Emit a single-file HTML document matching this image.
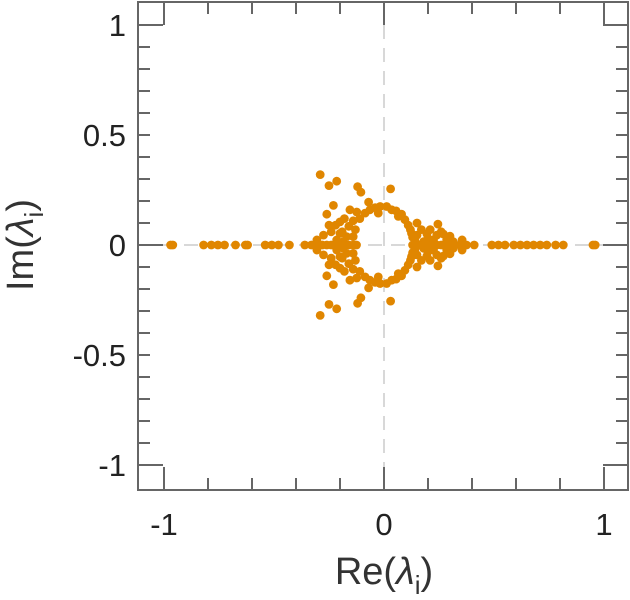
<!DOCTYPE html>
<html><head><meta charset="utf-8"><style>
body{margin:0;background:#fff}
svg{display:block;font-family:"Liberation Sans",sans-serif}
</style></head><body>
<svg id="chart" width="630" height="600">
<g id="plot"></g>
<text x="384" y="584" text-anchor="middle" font-size="38" fill="#333">Re(<tspan font-style="italic">λ</tspan><tspan font-size="26" dy="10">i</tspan><tspan dy="-10">)</tspan></text>
<text transform="translate(33,245) rotate(-90)" text-anchor="middle" font-size="38" fill="#333">Im(<tspan font-style="italic">λ</tspan><tspan font-size="26" dy="10">i</tspan><tspan dy="-10">)</tspan></text>
</svg>
<script>
// conjugate-pair eigenvalues (upper half; mirrored to lower half)
const pairRe = [-0.29,-0.25,-0.215,-0.12,-0.105,0.03,-0.23,-0.26,-0.07,-0.155,-0.124,-0.086,-0.064,-0.018,0.012,-0.026,0.055,0.065,0.095,0.11,0.15,0.245,-0.2,-0.16,-0.13,-0.24,-0.275,-0.2,-0.17,-0.14,0.125,0.15,0.195,0.24,0.27,0.225,0.285,0.315,0.355,-0.305,-0.215,-0.185,0.14,0.18,-0.14,-0.18,-0.22,-0.11,-0.04,0.035,0.08,0.12,0.17,0.21,0.26,0.3,-0.25,-0.19,0.13,0.2];
const pairIm = [0.32,0.27,0.29,0.265,0.24,0.255,0.18,0.14,0.195,0.16,0.15,0.145,0.16,0.175,0.175,0.145,0.155,0.13,0.115,0.09,0.1,0.095,0.105,0.085,0.07,0.06,0.045,0.053,0.038,0.038,0.053,0.045,0.05,0.045,0.05,0.023,0.023,0.015,0.023,0.023,0.023,0.015,0.023,0.015,0.11,0.12,0.09,0.12,0.17,0.16,0.14,0.07,0.07,0.07,0.06,0.04,0.09,0.06,0.035,0.03];
// real eigenvalues
const realRe = [-0.97,-0.96,-0.82,-0.785,-0.755,-0.725,-0.675,-0.63,-0.62,-0.54,-0.51,-0.48,-0.43,-0.36,-0.33,-0.3,-0.28,-0.26,-0.24,-0.22,-0.2,-0.18,-0.16,-0.14,-0.125,0.13,0.145,0.16,0.18,0.2,0.22,0.24,0.26,0.28,0.3,0.32,0.345,0.375,0.41,0.49,0.52,0.55,0.59,0.62,0.65,0.68,0.71,0.74,0.78,0.815,0.95,0.96];
const xTicks = [-1,-0.8,-0.6,-0.4,-0.2,0,0.2,0.4,0.6,0.8,1];
const xLabels = [-1,0,1];
const yTicks = [-1,-0.9,-0.8,-0.7,-0.6,-0.5,-0.4,-0.3,-0.2,-0.1,0,0.1,0.2,0.3,0.4,0.5,0.6,0.7,0.8,0.9,1];
const yLabels = [-1,-0.5,0,0.5,1];

const L=138,R=628,T=2,B=490;
const xs=v=>384+v*220;
const ys=v=>245-v*220;
const NS='http://www.w3.org/2000/svg';
const svg=document.getElementById('chart');
const g=document.getElementById('plot');
function mk(tag,attrs,parent){const e=document.createElementNS(NS,tag);for(const k in attrs)e.setAttribute(k,attrs[k]);(parent||g).appendChild(e);return e;}

let zl=mk('line',{x1:xs(0),x2:xs(0),y1:T,y2:B,stroke:'#d8d8d8','stroke-width':2,'stroke-dasharray':'14,9'});


let zh=mk('line',{x1:L,x2:R,y1:ys(0),y2:ys(0),stroke:'#d8d8d8','stroke-width':2,'stroke-dasharray':'14,9'});



const col='#e08600';
function pt(re,im){const c=mk('circle',{cx:xs(re),cy:ys(im),r:4.4,fill:col});

}
pairRe.forEach((r,i)=>{pt(r,pairIm[i]);pt(r,-pairIm[i]);});
realRe.forEach(r=>pt(r,0));

const fr=mk('rect',{x:L,y:T,width:R-L,height:B-T,fill:'none',stroke:'#666','stroke-width':2});



xTicks.forEach(v=>{const major=xLabels.includes(v);const len=major?23:12;
 const a=mk('line',{x1:xs(v),x2:xs(v),y1:B,y2:B-len,stroke:'#666','stroke-width':2});
 
 
 const b=mk('line',{x1:xs(v),x2:xs(v),y1:T,y2:T+len,stroke:'#666','stroke-width':2});
 
 });
yTicks.forEach(v=>{const major=Math.abs(Math.abs(v)-1)<1e-9||v===0;const len=major?25:12;
 const a=mk('line',{x1:L,x2:L+len,y1:ys(v),y2:ys(v),stroke:'#666','stroke-width':2});
 
 
 const b=mk('line',{x1:R,x2:R-len,y1:ys(v),y2:ys(v),stroke:'#666','stroke-width':2});
 
 });

xLabels.forEach(v=>{const t=mk('text',{x:xs(v),y:535,'text-anchor':'middle','font-size':31,fill:'#222'},svg);t.textContent=String(v);
 
 });
yLabels.forEach(v=>{const t=mk('text',{x:126,y:ys(v)+11,'text-anchor':'end','font-size':31,fill:'#222'},svg);t.textContent=String(v);
 
 });
</script>
</body></html>
